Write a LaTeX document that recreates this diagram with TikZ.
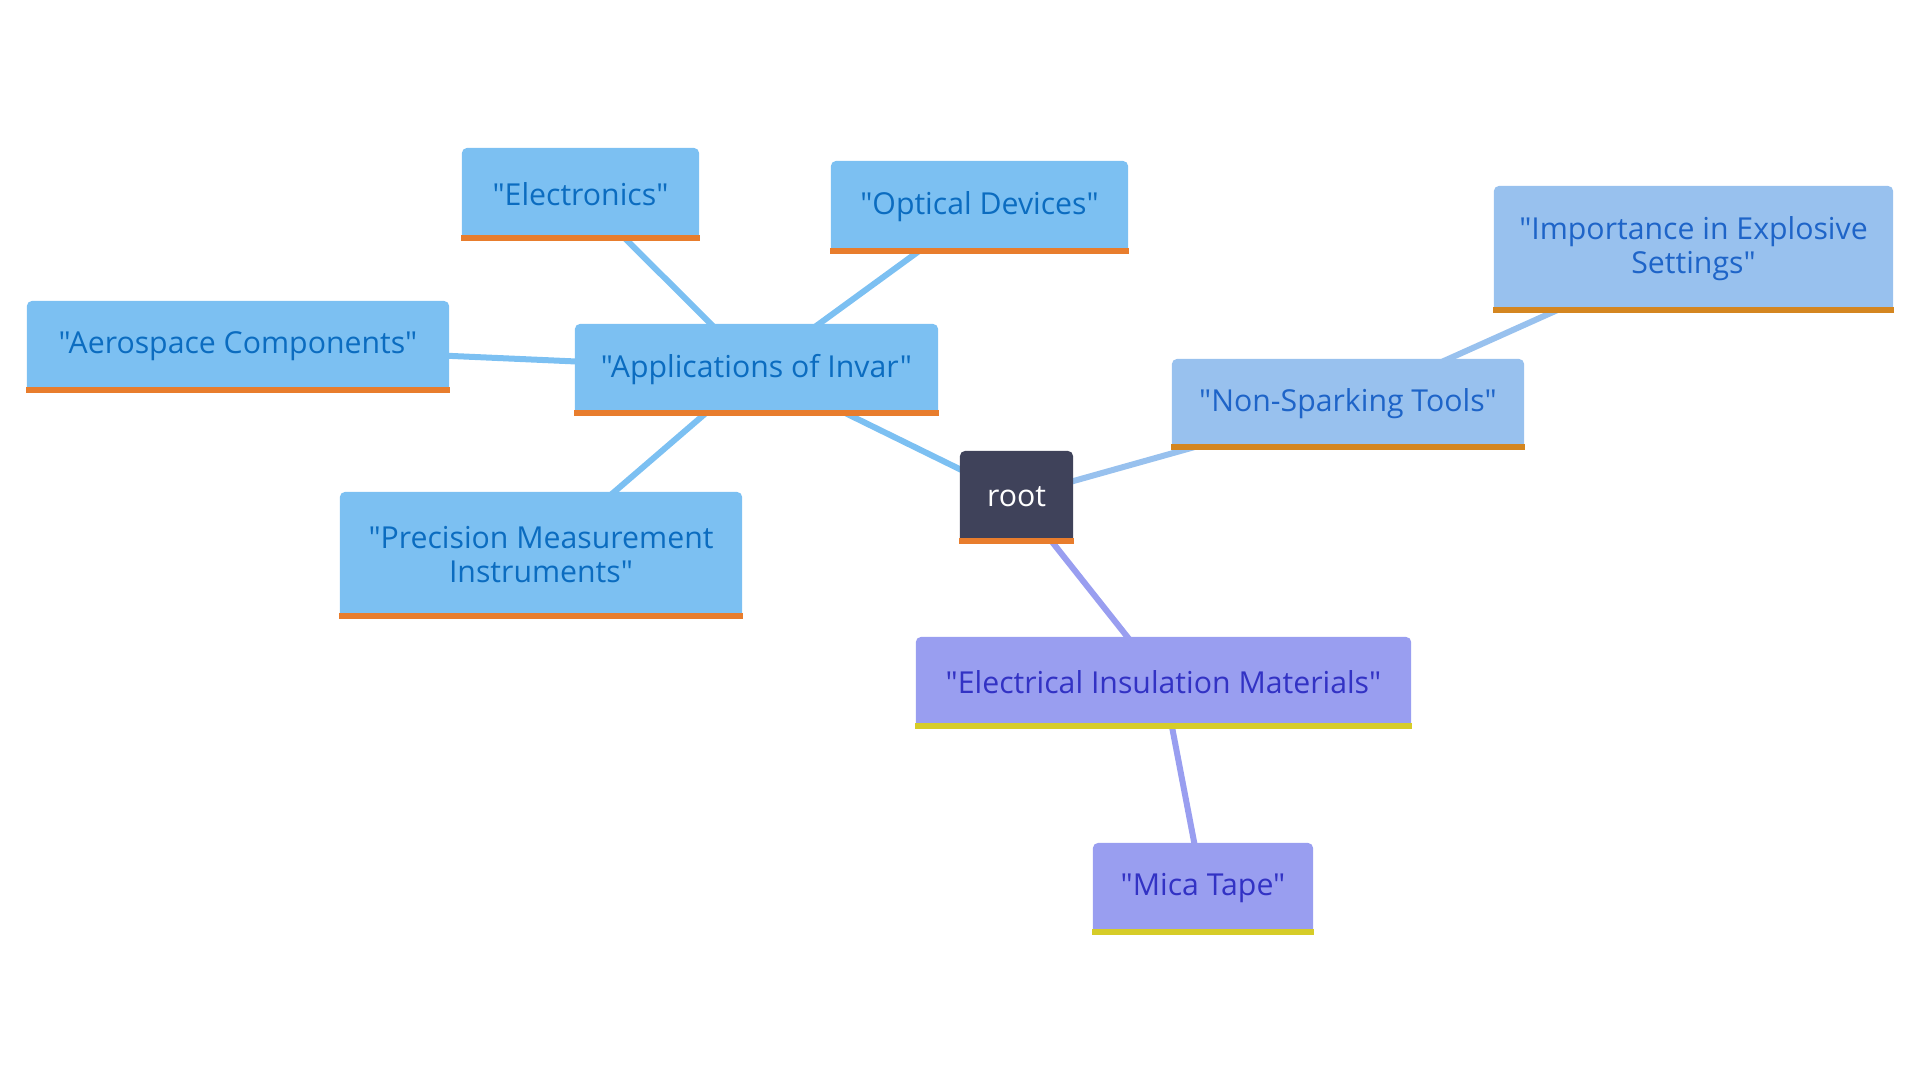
\documentclass[tikz,border=0pt]{standalone}
\usepackage{fontspec}
\setmainfont{Open Sans}[Ligatures=TeXOff]
\usetikzlibrary{backgrounds}

\definecolor{mmslate}{RGB}{63, 66, 90}
\definecolor{mmorange}{RGB}{232, 125, 45}
\definecolor{mmamber}{RGB}{212, 134, 32}
\definecolor{mmyellow}{RGB}{214, 204, 40}
\definecolor{mmsky}{RGB}{124, 192, 242}
\definecolor{mmskyink}{RGB}{11, 108, 192}
\definecolor{mmpale}{RGB}{152, 193, 238}
\definecolor{mmpaleink}{RGB}{30, 100, 200}
\definecolor{mmlilac}{RGB}{153, 158, 240}
\definecolor{mmlilacink}{RGB}{50, 50, 196}
\tikzset{mmbox/.style={rounded corners=0.05cm, inner sep=0pt, align=center, font=\fontsize{8.6}{9.7}\selectfont}}
\tikzset{skybox/.style={mmbox, fill=mmsky, text=mmskyink}}
\tikzset{palebox/.style={mmbox, fill=mmpale, text=mmpaleink}}
\tikzset{lilacbox/.style={mmbox, fill=mmlilac, text=mmlilacink}}
\tikzset{skyedge/.style={line width=0.06cm, color=mmsky}}
\tikzset{paleedge/.style={line width=0.06cm, color=mmpale}}
\tikzset{lilacedge/.style={line width=0.06cm, color=mmlilac}}

\begin{document}
\begin{tikzpicture}[x=0.01cm, y=-0.01cm]
        \useasboundingbox (0,0) rectangle (1920,1080);

        \node[mmbox, fill=mmslate, text=white, minimum width=1.13cm, minimum height=0.92cm] (Nroot) at (1016.5, 497) {root};

        \node[skybox, minimum width=3.63cm, minimum height=0.91cm] (Ninvar) at (756.5, 369.5) {"Applications of Invar"};
        \node[skybox, minimum width=2.37cm, minimum height=0.92cm] (Nelec) at (580.5, 194) {"Electronics"};
        \node[skybox, minimum width=2.97cm, minimum height=0.92cm] (Noptic) at (979.5, 207) {"Optical Devices"};
        \node[skybox, minimum width=4.22cm, minimum height=0.91cm] (Naero) at (238, 346.5) {"Aerospace Components"};
        \node[skybox, minimum width=4.02cm, minimum height=1.26cm] (Nprec) at (541, 555) {"Precision Measurement\\Instruments"};

        \node[palebox, minimum width=3.52cm, minimum height=0.90cm] (Nspark) at (1348, 404) {"Non-Sparking Tools"};
        \node[palebox, minimum width=3.99cm, minimum height=1.26cm] (Nexplo) at (1693.5, 249) {"Importance in Explosive\\Settings"};

        \node[lilacbox, minimum width=4.95cm, minimum height=0.91cm] (Ninsul) at (1163.5, 682.5) {"Electrical Insulation Materials"};
        \node[lilacbox, minimum width=2.20cm, minimum height=0.91cm] (Nmica) at (1203, 888.5) {"Mica Tape"};

        % bottom bars
        \fill[mmorange] (Nroot.south west) rectangle ([yshift=0.06cm]Nroot.south east);
        \fill[mmorange] (Ninvar.south west) rectangle ([yshift=0.06cm]Ninvar.south east);
        \fill[mmorange] (Nelec.south west) rectangle ([yshift=0.06cm]Nelec.south east);
        \fill[mmorange] (Noptic.south west) rectangle ([yshift=0.06cm]Noptic.south east);
        \fill[mmorange] (Naero.south west) rectangle ([yshift=0.06cm]Naero.south east);
        \fill[mmorange] (Nprec.south west) rectangle ([yshift=0.06cm]Nprec.south east);
        \fill[mmamber] (Nspark.south west) rectangle ([yshift=0.06cm]Nspark.south east);
        \fill[mmamber] (Nexplo.south west) rectangle ([yshift=0.06cm]Nexplo.south east);
        \fill[mmyellow] (Ninsul.south west) rectangle ([yshift=0.06cm]Ninsul.south east);
        \fill[mmyellow] (Nmica.south west) rectangle ([yshift=0.06cm]Nmica.south east);

        \begin{scope}[on background layer]
        \draw [skyedge] (Nroot.center) -- (Ninvar.center);
        \draw [skyedge] (Ninvar.center) -- (Nelec.center);
        \draw [skyedge] (Ninvar.center) -- (Noptic.center);
        \draw [skyedge] (Ninvar.center) -- (Naero.center);
        \draw [skyedge] (Ninvar.center) -- (Nprec.center);
        \draw [paleedge] (Nroot.center) -- (Nspark.center);
        \draw [paleedge] (Nspark.center) -- (Nexplo.center);
        \draw [lilacedge] (Nroot.center) -- (Ninsul.center);
        \draw [lilacedge] (Ninsul.center) -- (Nmica.center);
        \end{scope}

    \end{tikzpicture}
\end{document}
